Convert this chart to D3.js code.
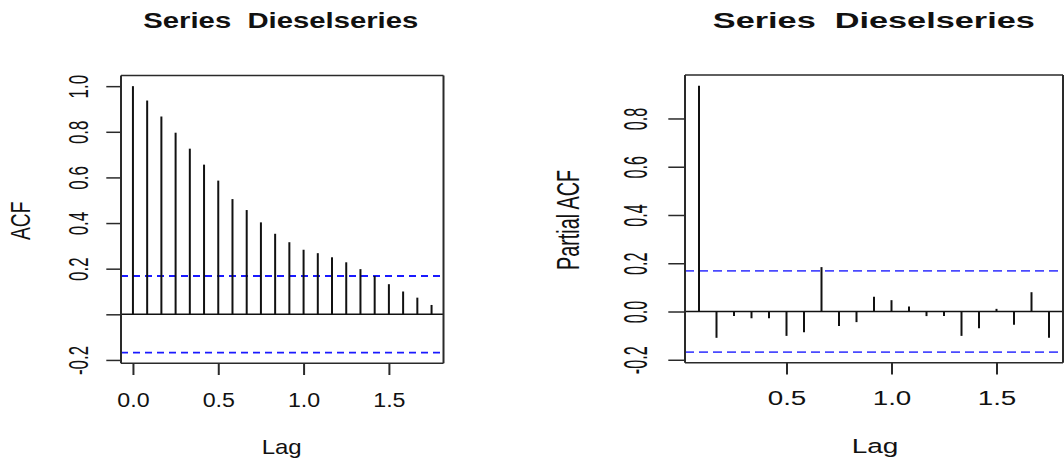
<!DOCTYPE html>
<html>
<head>
<meta charset="utf-8">
<script src="https://cdn.jsdelivr.net/npm/d3@7"></script>
<style>
  html, body { margin: 0; padding: 0; background: #fff; }
  svg { display: block; }
  text { font-family: "Liberation Sans", Arial, sans-serif; fill: #111; }
  .title { white-space: pre; }
</style>
</head>
<body>
<svg id="chart" width="1064" height="463"></svg>
<script>
// ---- data ----
const frequency = 12;
const acfLagMonths = [0,1,2,3,4,5,6,7,8,9,10,11,12,13,14,15,16,17,18,19,20,21];
const acfValues = [1.000, 0.937, 0.867, 0.796, 0.726, 0.656, 0.586, 0.505, 0.457, 0.403, 0.353,
                   0.316, 0.283, 0.268, 0.250, 0.228, 0.198, 0.168, 0.132, 0.100, 0.073, 0.041];
const pacfLagMonths = [1,2,3,4,5,6,7,8,9,10,11,12,13,14,15,16,17,18,19,20,21];
const pacfValues = [0.936, -0.109, -0.019, -0.028, -0.028, -0.101, -0.086, 0.184, -0.060, -0.044,
                    0.061, 0.047, 0.021, -0.019, -0.019, -0.101, -0.069, 0.011, -0.055, 0.080, -0.109];
const confLimit = 0.168;
const titleText = "Series  Dieselseries";
const xLabel = "Lag";
const acfYLabel = "ACF";
const pacfYLabel = "Partial ACF";
const acfXTicks = [0, 0.5, 1.0, 1.5];
const pacfXTicks = [0.5, 1.0, 1.5];
const acfYTicks = [-0.2, 0.0, 0.2, 0.4, 0.6, 0.8, 1.0];
const acfYTickLabels = ["-0.2", "", "0.2", "0.4", "0.6", "0.8", "1.0"];
const pacfYTicks = [-0.2, 0.0, 0.2, 0.4, 0.6, 0.8];
const pacfYTickLabels = ["-0.2", "0.0", "0.2", "0.4", "0.6", "0.8"];

// ---- layout ----
const svg = d3.select("#chart");
svg.append("rect").attr("width", 1064).attr("height", 463).attr("fill", "#fff");

function pad(ext) { const r = ext[1] - ext[0]; return [ext[0] - 0.04 * r, ext[1] + 0.04 * r]; }

const panels = [
  {
    lags: acfLagMonths.map(m => m / frequency), values: acfValues,
    yExt: [Math.min(-confLimit, d3.min(acfValues)), 1],
    box: { x0: 121, x1: 443.5, y0: 75.5, y1: 363.3 },
    xTicks: acfXTicks, yTicks: acfYTicks, yTickLabels: acfYTickLabels,
    yLab: acfYLabel,
    title: { x: 280.8, y: 28.3, len: 275 },
    xTickText: { offset: 43.4, factor: 1.16, fs: 20 },
    xLab: { x: 281.7, y: 454.3, len: 40, fs: 21 },
    yTickText: { offset: 32.7, fs: 28, factor: 0.604 },
    yLabPos: { x: 30, y: 220.8, len: 38.3, fs: 28 },
    yTickLen: 14.7,
    dash: { color: "#1a1aff", arr: "7,5" }
  },
  {
    lags: pacfLagMonths.map(m => m / frequency), values: pacfValues,
    yExt: [Math.min(-confLimit, d3.min(pacfValues)), Math.max(confLimit, d3.max(pacfValues))],
    box: { x0: 685, x1: 1063, y0: 75, y1: 362.7 },
    xTicks: pacfXTicks, yTicks: pacfYTicks, yTickLabels: pacfYTickLabels,
    yLab: pacfYLabel,
    title: { x: 873.8, y: 28.3, len: 322 },
    xTickText: { offset: 42.3, factor: 1.39, fs: 20 },
    xLab: { x: 875, y: 453.3, len: 46.7, fs: 20.5 },
    yTickText: { offset: 38.3, fs: 32.5, factor: 0.498 },
    yLabPos: { x: 579.3, y: 220, len: 100, fs: 31.6 },
    yTickLen: 16.7,
    dash: { color: "#4a4aff", arr: "9,5" }
  }
];

panels.forEach(p => {
  const b = p.box;
  const x = d3.scaleLinear().domain(pad(d3.extent(p.lags))).range([b.x0, b.x1]);
  const y = d3.scaleLinear().domain(pad(p.yExt)).range([b.y1, b.y0]);
  const g = svg.append("g");

  // title
  g.append("text").attr("class", "title").attr("xml:space", "preserve")
    .attr("x", p.title.x).attr("y", p.title.y)
    .attr("text-anchor", "middle").attr("font-size", 22).attr("font-weight", "bold")
    .attr("textLength", p.title.len).attr("lengthAdjust", "spacingAndGlyphs")
    .text(titleText);

  // zero line
  g.append("line").attr("x1", b.x0).attr("x2", b.x1).attr("y1", y(0)).attr("y2", y(0))
    .attr("stroke", "#111").attr("stroke-width", 1.6);

  // confidence lines
  [confLimit, -confLimit].forEach(c => {
    g.append("line").attr("x1", b.x0).attr("x2", b.x1).attr("y1", y(c)).attr("y2", y(c))
      .attr("stroke", p.dash.color).attr("stroke-width", 1.8).attr("stroke-dasharray", p.dash.arr);
  });

  // spikes
  g.selectAll("line.spike").data(p.values).join("line").attr("class", "spike")
    .attr("x1", (d, i) => x(p.lags[i])).attr("x2", (d, i) => x(p.lags[i]))
    .attr("y1", y(0)).attr("y2", d => y(d))
    .attr("stroke", "#111").attr("stroke-width", 2);

  // box
  const bx = g.append("g").attr("stroke", "#2a2a2a");
  bx.append("line").attr("x1", b.x0).attr("x2", b.x1).attr("y1", b.y0).attr("y2", b.y0).attr("stroke-width", 1.5);
  bx.append("line").attr("x1", b.x0).attr("x2", b.x1).attr("y1", b.y1).attr("y2", b.y1).attr("stroke-width", 1.5);
  bx.append("line").attr("x1", b.x0).attr("x2", b.x0).attr("y1", b.y0).attr("y2", b.y1).attr("stroke-width", 2);
  bx.append("line").attr("x1", b.x1).attr("x2", b.x1).attr("y1", b.y0).attr("y2", b.y1).attr("stroke-width", 2);

  // x axis
  const xa = g.append("g").attr("transform", `translate(0,${b.y1})`)
    .call(d3.axisBottom(x).tickValues(p.xTicks).tickSize(11.7).tickFormat(d => d.toFixed(1)));
  xa.select(".domain").remove();
  xa.selectAll(".tick line").attr("stroke", "#2a2a2a").attr("stroke-width", 2);
  xa.selectAll(".tick text")
    .attr("y", p.xTickText.offset).attr("dy", 0)
    .attr("font-size", p.xTickText.fs).attr("fill", "#111")
    .attr("font-family", "Liberation Sans, Arial, sans-serif")
    .each(function () {
      const n = this.getComputedTextLength();
      d3.select(this).attr("textLength", n * p.xTickText.factor).attr("lengthAdjust", "spacingAndGlyphs");
    });

  // y axis
  const ya = g.append("g").attr("transform", `translate(${b.x0},0)`)
    .call(d3.axisLeft(y).tickValues(p.yTicks).tickSize(p.yTickLen)
      .tickFormat((d, i) => p.yTickLabels[i]));
  ya.select(".domain").remove();
  ya.selectAll(".tick line").attr("stroke", "#2a2a2a").attr("stroke-width", 1.5);
  ya.selectAll(".tick text")
    .attr("x", 0).attr("y", 0).attr("dy", 0)
    .attr("text-anchor", "middle")
    .attr("transform", `translate(${-p.yTickText.offset},0) rotate(-90)`)
    .attr("font-size", p.yTickText.fs).attr("fill", "#111")
    .attr("font-family", "Liberation Sans, Arial, sans-serif")
    .each(function () {
      const n = this.getComputedTextLength();
      if (n > 0) d3.select(this).attr("textLength", n * p.yTickText.factor).attr("lengthAdjust", "spacingAndGlyphs");
    });

  // axis titles
  g.append("text").attr("x", p.xLab.x).attr("y", p.xLab.y).attr("text-anchor", "middle")
    .attr("font-size", p.xLab.fs).attr("textLength", p.xLab.len).attr("lengthAdjust", "spacingAndGlyphs")
    .text(xLabel);
  g.append("text").attr("transform", `translate(${p.yLabPos.x},${p.yLabPos.y}) rotate(-90)`)
    .attr("text-anchor", "middle").attr("font-size", p.yLabPos.fs)
    .attr("textLength", p.yLabPos.len).attr("lengthAdjust", "spacingAndGlyphs")
    .text(p.yLab);
});
</script>
</body>
</html>
